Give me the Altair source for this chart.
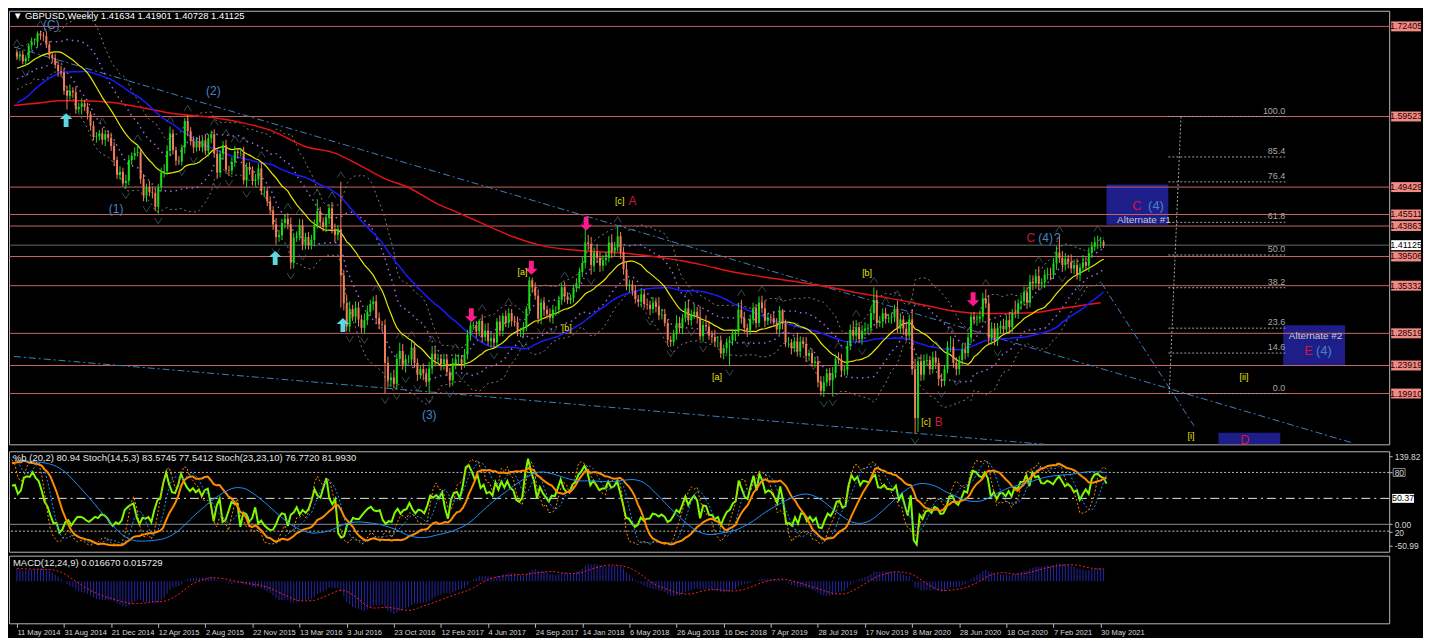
import altair as alt
import numpy as np
import pandas as pd

# ---------------------------------------------------------------- data
# weekly closes (x1000) for the year before the visible window (indicator warm-up only)
PRE_CLOSE = [1526, 1516, 1520, 1537, 1568, 1549, 1521, 1488, 1502, 1524, 1537, 1535, 1553,
             1564, 1557, 1550, 1565, 1587, 1601, 1611, 1620, 1600, 1617, 1618, 1594, 1601,
             1613, 1623, 1637, 1640, 1633, 1637, 1641, 1656, 1643, 1644, 1660, 1643, 1637,
             1668, 1666, 1675, 1667, 1662, 1650, 1663, 1660, 1674, 1679, 1682, 1688, 1687]

# visible weekly closes (x1000), week 0 = 11 May 2014
CLOSE = [1681, 1684, 1674, 1679, 1697, 1702, 1702, 1714, 1711, 1710,
         1698, 1683, 1679, 1669, 1660, 1658, 1632, 1625, 1632, 1630,
         1606, 1609, 1614, 1609, 1599, 1582, 1566, 1567, 1571, 1562,
         1570, 1565, 1553, 1533, 1512, 1516, 1500, 1503, 1533, 1539,
         1543, 1544, 1506, 1482, 1494, 1487, 1486, 1466, 1494, 1515,
         1517, 1546, 1571, 1547, 1532, 1531, 1551, 1589, 1574, 1560,
         1551, 1560, 1551, 1561, 1546, 1564, 1570, 1542, 1515, 1542,
         1554, 1519, 1518, 1530, 1545, 1543, 1543, 1504, 1523, 1519,
         1503, 1505, 1521, 1489, 1489, 1474, 1461, 1441, 1423, 1425,
         1443, 1449, 1441, 1386, 1422, 1425, 1440, 1412, 1423, 1411,
         1419, 1440, 1460, 1444, 1437, 1450, 1464, 1434, 1426, 1434,
         1368, 1328, 1295, 1320, 1309, 1322, 1305, 1293, 1304, 1316,
         1327, 1331, 1307, 1298, 1297, 1243, 1218, 1222, 1213, 1249,
         1260, 1240, 1248, 1248, 1265, 1243, 1226, 1234, 1228, 1216,
         1235, 1256, 1248, 1249, 1241, 1248, 1230, 1218, 1241, 1248,
         1248, 1242, 1255, 1283, 1296, 1297, 1288, 1303, 1280, 1289,
         1274, 1278, 1272, 1302, 1289, 1310, 1300, 1314, 1303, 1301,
         1288, 1288, 1294, 1320, 1361, 1351, 1339, 1306, 1329, 1319,
         1313, 1307, 1319, 1319, 1333, 1351, 1338, 1333, 1336, 1350,
         1357, 1373, 1386, 1415, 1413, 1383, 1401, 1393, 1382, 1390,
         1393, 1415, 1402, 1408, 1424, 1401, 1377, 1353, 1355, 1346,
         1334, 1330, 1341, 1327, 1326, 1320, 1329, 1323, 1311, 1312,
         1300, 1276, 1273, 1284, 1300, 1293, 1307, 1321, 1304, 1312,
         1316, 1308, 1281, 1297, 1295, 1282, 1280, 1273, 1273, 1257,
         1264, 1272, 1275, 1284, 1287, 1319, 1307, 1293, 1289, 1305,
         1321, 1300, 1329, 1321, 1303, 1308, 1307, 1300, 1291, 1318,
         1299, 1272, 1272, 1264, 1274, 1259, 1273, 1270, 1253, 1257,
         1243, 1245, 1216, 1203, 1215, 1228, 1218, 1228, 1248, 1247,
         1232, 1233, 1267, 1290, 1282, 1294, 1277, 1289, 1292, 1293,
         1314, 1333, 1300, 1302, 1314, 1306, 1307, 1308, 1320, 1292,
         1305, 1292, 1282, 1305, 1234, 1164, 1245, 1226, 1246, 1247,
         1234, 1251, 1243, 1220, 1217, 1234, 1266, 1266, 1243, 1234,
         1247, 1262, 1257, 1279, 1309, 1305, 1306, 1309, 1335, 1328,
         1278, 1292, 1275, 1293, 1296, 1291, 1304, 1294, 1315, 1314,
         1328, 1331, 1344, 1329, 1359, 1357, 1367, 1356, 1358, 1369,
         1370, 1369, 1385, 1401, 1393, 1383, 1392, 1387, 1378, 1383,
         1369, 1379, 1387, 1382, 1400, 1409, 1415, 1415, 1416, 1411]

# upper wick above the body (x1000)
UP = [4, 5, 6, 4, 3, 6, 5, 3, 4, 5,
      7, 5, 4, 6, 5, 8, 6, 7, 9, 5,
      8, 6, 7, 5, 6, 4, 7, 6, 5, 8,
      6, 5, 7, 6, 5, 8, 6, 9, 7, 5,
      8, 11, 6, 7, 5, 9, 8, 6, 5, 7,
      10, 8, 10, 6, 5, 7, 4, 4, 8, 6,
      7, 6, 8, 5, 9, 6, 5, 7, 6, 5,
      6, 8, 6, 7, 8, 5, 6, 9, 6, 7,
      5, 8, 7, 10, 6, 5, 7, 6, 9, 8,
      6, 7, 8, 10, 7, 6, 9, 8, 6, 7,
      7, 8, 17, 6, 7, 6, 6, 9, 8, 5,
      68, 8, 12, 11, 6, 9, 8, 7, 10, 9,
      6, 7, 9, 8, 5, 8, 9, 7, 11, 7,
      12, 10, 7, 6, 9, 8, 6, 5, 8, 7,
      9, 11, 10, 7, 6, 8, 7, 6, 9, 8,
      7, 6, 8, 7, 6, 5, 6, 2, 9, 10,
      11, 7, 6, 5, 9, 4, 8, 7, 6, 7,
      8, 5, 7, 4, 5, 4, 7, 9, 6, 8,
      6, 8, 7, 5, 6, 7, 8, 6, 5, 5,
      7, 6, 9, 20, 11, 10, 7, 12, 8, 7,
      9, 9, 12, 8, 14, 6, 8, 10, 7, 6,
      8, 6, 9, 7, 8, 6, 8, 7, 14, 8,
      8, 5, 6, 6, 11, 9, 6, 10, 12, 7,
      11, 7, 16, 6, 14, 8, 7, 10, 8, 9,
      5, 6, 6, 6, 4, 10, 14, 9, 6, 7,
      8, 6, 9, 10, 11, 6, 5, 10, 7, 6,
      2, 6, 8, 5, 6, 12, 8, 7, 10, 5,
      6, 7, 6, 8, 9, 7, 8, 9, 7, 10,
      9, 6, 7, 8, 13, 10, 7, 8, 9, 6,
      9, 18, 14, 8, 7, 8, 6, 6, 6, 12,
      9, 6, 10, 7, 15, 15, 7, 10, 9, 9,
      6, 8, 9, 7, 8, 6, 8, 15, 12, 8,
      6, 8, 10, 7, 6, 7, 6, 9, 8, 13,
      12, 9, 8, 7, 7, 10, 7, 12, 5, 17,
      6, 9, 8, 7, 10, 9, 10, 14, 6, 7,
      9, 9, 8, 9, 23, 10, 8, 5, 11, 8,
      9, 6, 10, 7, 8, 7, 8, 10, 7, 3]

# lower wick below the body (x1000)
DN = [5, 6, 4, 7, 5, 6, 5, 8, 6, 7,
      5, 6, 7, 5, 8, 6, 6, 20, 6, 8,
      7, 5, 11, 6, 8, 7, 5, 8, 6, 7,
      9, 6, 7, 8, 6, 7, 5, 8, 6, 7,
      6, 5, 7, 8, 9, 6, 8, 6, 10, 6,
      7, 5, 8, 6, 7, 5, 6, 9, 7, 6,
      8, 6, 5, 7, 6, 8, 7, 6, 9, 7,
      9, 5, 8, 6, 7, 8, 5, 6, 10, 7,
      6, 7, 8, 6, 9, 7, 6, 8, 11, 7,
      6, 8, 7, 9, 8, 6, 7, 8, 7, 6,
      6, 7, 5, 8, 6, 7, 9, 6, 11, 8,
      46, 10, 7, 8, 6, 9, 10, 7, 8, 7,
      6, 9, 8, 7, 9, 44, 10, 9, 6, 8,
      9, 7, 11, 6, 8, 7, 9, 6, 10, 7,
      17, 8, 10, 7, 9, 8, 6, 10, 8, 7,
      8, 9, 6, 7, 8, 6, 9, 7, 8, 6,
      6, 9, 9, 7, 8, 8, 6, 7, 8, 6,
      7, 8, 9, 6, 7, 8, 6, 7, 8, 9,
      7, 6, 8, 9, 6, 7, 8, 6, 6, 7,
      6, 8, 7, 8, 9, 14, 10, 7, 9, 8,
      8, 6, 9, 7, 6, 9, 8, 6, 9, 7,
      6, 7, 8, 6, 7, 9, 6, 8, 7, 6,
      5, 8, 7, 6, 8, 7, 9, 6, 7, 8,
      6, 9, 6, 8, 7, 6, 9, 6, 8, 7,
      9, 8, 33, 7, 10, 6, 8, 7, 9, 6,
      7, 8, 6, 7, 9, 6, 8, 5, 7, 8,
      8, 6, 7, 9, 6, 7, 8, 6, 9, 7,
      6, 7, 8, 7, 9, 6, 8, 22, 7, 6,
      9, 7, 8, 6, 7, 9, 6, 8, 7, 6,
      7, 10, 8, 6, 9, 7, 6, 8, 7, 6,
      7, 9, 8, 6, 8, 23, 20, 9, 8, 7,
      8, 6, 9, 10, 9, 7, 6, 8, 7, 9,
      8, 7, 9, 6, 8, 7, 9, 6, 8, 7,
      10, 9, 7, 8, 9, 7, 6, 9, 8, 7,
      8, 9, 6, 9, 7, 10, 8, 9, 7, 8,
      7, 8, 6, 9, 7, 10, 8, 9, 7, 8,
      7, 9, 6, 8, 9, 7, 6, 9, 8, 4]

DATE_LABELS = ['11 May 2014', '31 Aug 2014', '21 Dec 2014', '12 Apr 2015', '2 Aug 2015',
               '22 Nov 2015', '13 Mar 2016', '3 Jul 2016', '23 Oct 2016', '12 Feb 2017',
               '4 Jun 2017', '24 Sep 2017', '14 Jan 2018', '6 May 2018', '26 Aug 2018',
               '16 Dec 2018', '7 Apr 2019', '28 Jul 2019', '17 Nov 2019', '8 Mar 2020',
               '28 Jun 2020', '18 Oct 2020', '7 Feb 2021', '30 May 2021']
DATE_WEEKS = [0, 16, 32, 48, 64, 80, 96, 112, 128, 144, 160, 176, 192, 208, 224, 240,
              256, 272, 288, 304, 320, 336, 352, 368]

PRICE_TICKS = [1.71840, 1.68340, 1.64840, 1.61440, 1.57940, 1.54440, 1.51040, 1.47540,
               1.44040, 1.40340, 1.37140, 1.33740, 1.30240, 1.26740, 1.23340, 1.19840,
               1.16340, 1.12940]

LEVELS = [1.72405, 1.59523, 1.49429, 1.45511, 1.43863, 1.39506, 1.35332, 1.28519, 1.23919, 1.19910]
LAST_PRICE = 1.41125

# slow (red) moving average
RED_W = [-1, 9, 14, 22.3, 32.3, 42.3, 52.3, 65.7, 75.7, 85.7, 99, 107.3, 115.7, 125.7, 132.3,
         142.3, 150.7, 159, 169, 179, 189, 199, 209, 219, 225.7, 232.3, 242.3, 252.3, 265.7,
         275.7, 285.7, 295.7, 309, 319, 329, 335.7, 345.7, 352.3, 359, 368]
RED_P = [1.6110, 1.6151, 1.6179, 1.6179, 1.6151, 1.6082, 1.5998, 1.5942, 1.5872, 1.5761,
         1.5509, 1.5439, 1.5272, 1.5049, 1.4951, 1.4713, 1.4560, 1.4406, 1.4225, 1.4099,
         1.4043, 1.4015, 1.3987, 1.3932, 1.3890, 1.3834, 1.3736, 1.3666, 1.3583, 1.3513,
         1.3429, 1.3359, 1.3247, 1.3164, 1.3136, 1.3136, 1.3150, 1.3192, 1.3234, 1.3290]

FIB_LEVELS = [100.0, 85.4, 76.4, 61.8, 50.0, 38.2, 23.6, 14.6, 0.0]
FIB_LOW, FIB_HIGH = 1.19910, 1.59523
FIB_W0, FIB_W1 = 391.0, 430.7
FIB_VERT_W = [395.3, 391.3]

TREND_W0 = [-1, -1, 368.3]
TREND_P0 = [1.6947, 1.2521, 1.3569]
TREND_W1 = [454, 349, 399.7]
TREND_P1 = [1.1279, 1.1265, 1.1530]

BOX_W0 = [370, 430, 408]
BOX_W1 = [391, 451, 429]
BOX_P0 = [1.4979, 1.2968, 1.1432]
BOX_P1 = [1.4406, 1.2396, 1.1000]

WAVE_TEXT = ['(C)', '(2)', '(1)', '(3)', '[c]', 'A', '[a]', '[b]', '[a]', '[b]', '[c]', 'B',
             'C', '(4)', '?', '[ii]', '[i]', 'C', '(4)', 'Alternate #1', 'Alternate #2',
             'E', '(4)', 'D']
WAVE_W = [11.7, 66.7, 33.7, 140.0, 204.7, 209.0, 171.7, 186.7, 237.7, 288.7, 308.7, 313.0,
          344.3, 349.3, 353.3, 416.7, 398.7, 380.3, 386.8, 382.7, 441.0, 438.6, 443.8, 417.0]
WAVE_P = [1.7255, 1.6320, 1.4630, 1.1684, 1.4741, 1.4741, 1.3722, 1.2926, 1.2228, 1.3708,
          1.1586, 1.1586, 1.4211, 1.4211, 1.4211, 1.2228, 1.1390, 1.4671, 1.4671, 1.4476,
          1.2815, 1.2605, 1.2605, 1.1321]
WAVE_KIND = ['deg', 'deg', 'deg', 'deg', 'sub', 'big', 'sub', 'sub', 'sub', 'sub', 'sub', 'big',
             'big', 'deg', 'deg', 'sub', 'sub', 'bigbox', 'degbox', 'alt', 'alt',
             'bigbox', 'degbox', 'bigbox']

UP_ARROW_W = [16.7, 87.7, 110.7]
UP_ARROW_P = [1.590, 1.393, 1.297]
DOWN_ARROW_W = [154.3, 174.7, 193.3, 324.7]
DOWN_ARROW_P = [1.311, 1.379, 1.442, 1.334]

TITLE_MAIN = '\u25bc GBPUSD,Weekly  1.41634 1.41901 1.40728 1.41125'
TITLE_STOCH = '%b (20,2) 80.94  Stoch(14,5,3) 83.5745 77.5412  Stoch(23,23,10) 76.7720 81.9930'
TITLE_MACD = 'MACD(12,24,9) 0.016670 0.015729'

# ---------------------------------------------------------------- build table
n_pre = len(PRE_CLOSE)
c_all = np.array(PRE_CLOSE + CLOSE, dtype=float) / 1000.0
o_all = np.r_[c_all[0], c_all[:-1]]
up_all = np.r_[np.zeros(n_pre), np.array(UP, dtype=float) / 1000.0]
dn_all = np.r_[np.zeros(n_pre), np.array(DN, dtype=float) / 1000.0]
h_all = np.maximum(o_all, c_all) + up_all
l_all = np.minimum(o_all, c_all) - dn_all
df = pd.DataFrame({'w': np.arange(len(c_all)) - n_pre, 'o': o_all, 'h': h_all,
                   'l': l_all, 'c': c_all})

c = df['c']
df['sma20'] = c.rolling(20).mean()
df['sma50'] = c.rolling(50).mean()
sd = c.rolling(20).std(ddof=0)
df['bbu'] = df['sma20'] + 2 * sd
df['bbl'] = df['sma20'] - 2 * sd
df['pu'] = df['sma20'] + sd
df['pl'] = df['sma20'] - sd
df['pb'] = (c - df['bbl']) / (df['bbu'] - df['bbl']) * 100


def stoch(k, d, s):
    ll = df['l'].rolling(k).min()
    hh = df['h'].rolling(k).max()
    main = 100 * (c - ll).rolling(s).sum() / (hh - ll).rolling(s).sum()
    return main, main.rolling(d).mean()


df['k14'], df['d14'] = stoch(14, 5, 3)
df['k23'], df['d23'] = stoch(23, 23, 10)
df['macd'] = c.ewm(span=12, adjust=False).mean() - c.ewm(span=24, adjust=False).mean()
df['sig'] = df['macd'].rolling(9).mean()
df['dir'] = np.where(df['c'] >= df['o'], 'up', 'down')
hh_, ll_ = df['h'], df['l']
df['fup'] = (hh_ > hh_.shift(1)) & (hh_ > hh_.shift(2)) & (hh_ > hh_.shift(-1)) & (hh_ > hh_.shift(-2))
df['fdn'] = (ll_ < ll_.shift(1)) & (ll_ < ll_.shift(2)) & (ll_ < ll_.shift(-1)) & (ll_ < ll_.shift(-2))

vis = df[df['w'] >= 0].reset_index(drop=True)

# ---------------------------------------------------------------- styling
W = 1388
H_MAIN, H_STOCH, H_MACD = 436, 101, 68
FONT = 'Liberation Sans Narrow, Liberation Sans, Arial, sans-serif'
LABEL_C = '#d6d6d6'
FRAME_C = '#b8b8b8'
XS = alt.Scale(domain=[-1, 464.3], nice=False, zero=False)
YS = alt.Scale(domain=[1.1265, 1.7464], nice=False, zero=False)
SS = alt.Scale(domain=[-1, 101.6], nice=False, zero=False)
BS = alt.Scale(domain=[-55.1, 147.6], nice=False, zero=False)
MS = alt.Scale(domain=[-0.0538, 0.0325], nice=False, zero=False)


def X(f='w'):
    return alt.X(f + ':Q', scale=XS, axis=None)


def series(col):
    d = vis[['w', col]].dropna().rename(columns={col: 'v'})
    return d


def line(col, scale, color, width=1.0, dash=None):
    kw = dict(color=color, strokeWidth=width, clip=True)
    if dash:
        kw['strokeDash'] = dash
    return alt.Chart(series(col)).mark_line(**kw).encode(
        x=X(), y=alt.Y('v:Q', scale=scale, axis=None))


def rect_path(hw, hh):
    return 'M-1,-{0}H1V{0}H-1Z'.format(round(hh / hw, 4))


# ---------------------------------------------------------------- main pane
boxes = pd.DataFrame({'w0': BOX_W0, 'w1': BOX_W1, 'p0': BOX_P0, 'p1': BOX_P1})
l_boxes = alt.Chart(boxes).mark_rect(color='#1e1e8a', clip=True).encode(
    x=X('w0'), x2='w1', y=alt.Y('p0:Q', scale=YS, axis=None), y2='p1')

lv = pd.DataFrame({'p': LEVELS, 't': ['%.5f' % p for p in LEVELS]})
l_levels = alt.Chart(lv).mark_rule(color='#c96464', strokeWidth=1).encode(
    y=alt.Y('p:Q', scale=YS, axis=None))
lp = pd.DataFrame({'p': [LAST_PRICE], 't': ['%.5f' % LAST_PRICE]})
l_last = alt.Chart(lp).mark_rule(color='#5b6d6d', strokeWidth=1).encode(
    y=alt.Y('p:Q', scale=YS, axis=None))

tr = pd.DataFrame({'w0': TREND_W0, 'p0': TREND_P0, 'w1': TREND_W1, 'p1': TREND_P1})
l_trend = alt.Chart(tr).mark_rule(color='#3f7fc0', strokeWidth=1, strokeDash=[7, 3, 2, 3],
                                  clip=True).encode(
    x=X('w0'), x2='w1', y=alt.Y('p0:Q', scale=YS, axis=None), y2='p1')

fib = pd.DataFrame({'lvl': FIB_LEVELS})
fib['p'] = FIB_LOW + fib['lvl'] / 100.0 * (FIB_HIGH - FIB_LOW)
fib['w0'] = FIB_W0
fib['w1'] = FIB_W1
fib['t'] = ['%.1f' % v for v in FIB_LEVELS]
l_fib = alt.Chart(fib).mark_rule(color='#a4a4a4', strokeWidth=1, strokeDash=[2, 2]).encode(
    x=X('w0'), x2='w1', y=alt.Y('p:Q', scale=YS, axis=None))
fv = pd.DataFrame({'w0': [FIB_VERT_W[0]], 'w1': [FIB_VERT_W[1]], 'p0': [FIB_HIGH], 'p1': [FIB_LOW]})
l_fibv = alt.Chart(fv).mark_rule(color='#a4a4a4', strokeWidth=1, strokeDash=[2, 2]).encode(
    x=X('w0'), x2='w1', y=alt.Y('p0:Q', scale=YS, axis=None), y2='p1')
l_fibt = alt.Chart(fib).mark_text(color='#a8a8a8', font=FONT, fontSize=9, align='right',
                                  baseline='bottom', dy=-1).encode(
    x=X('w1'), y=alt.Y('p:Q', scale=YS, axis=None), text='t:N')

l_bbu = line('bbu', YS, '#7d7d7d', 1, [2, 3])
l_bbl = line('bbl', YS, '#7d7d7d', 1, [2, 3])
l_pu = line('pu', YS, '#9b6ae0', 1.5, [1.5, 4])
l_pl = line('pl', YS, '#9b6ae0', 1.5, [1.5, 4])
red = pd.DataFrame({'w': RED_W, 'v': RED_P})
l_red = alt.Chart(red).mark_line(color='#e21414', strokeWidth=1.5, interpolate='monotone',
                                 clip=True).encode(x=X(), y=alt.Y('v:Q', scale=YS, axis=None))
l_blue = line('sma50', YS, '#1a1aff', 1.5)
l_yel = line('sma20', YS, '#e8e800', 1.2)

CANDLE_COL = alt.Color('dir:N', scale=alt.Scale(domain=['up', 'down'], range=['#19dc19', '#f0805c']),
                       legend=None)
l_wick = alt.Chart(vis).mark_rule(strokeWidth=1).encode(
    x=X(),
    y=alt.Y('l:Q', scale=YS, axis=alt.Axis(orient='right', values=PRICE_TICKS, format='.5f',
                                           title=None, grid=False, domain=False, tickSize=3,
                                           tickColor=FRAME_C, labelColor=LABEL_C, labelFont=FONT,
                                           labelFontSize=9, labelPadding=2, labelOverlap=False)),
    y2='h', color=CANDLE_COL)
l_body = alt.Chart(vis).mark_bar(size=2).encode(
    x=X(), y=alt.Y('o:Q', scale=YS, axis=None), y2='c', color=CANDLE_COL)

FR_C = '#4a6c6c'
l_fup = alt.Chart(vis[vis['fup']]).mark_point(
    shape='M-1,0.8L0,-0.8L1,0.8', filled=False, size=56, strokeWidth=1, color=FR_C, yOffset=-7
).encode(x=X(), y=alt.Y('h:Q', scale=YS, axis=None))
l_fdn = alt.Chart(vis[vis['fdn']]).mark_point(
    shape='M-1,-0.8L0,0.8L1,-0.8', filled=False, size=56, strokeWidth=1, color=FR_C, yOffset=7
).encode(x=X(), y=alt.Y('l:Q', scale=YS, axis=None))

ua = pd.DataFrame({'w': UP_ARROW_W, 'p': UP_ARROW_P})
da = pd.DataFrame({'w': DOWN_ARROW_W, 'p': DOWN_ARROW_P})
l_ua = alt.Chart(ua).mark_point(
    shape='M0,-1L0.9,-0.15L0.35,-0.15L0.35,1L-0.35,1L-0.35,-0.15L-0.9,-0.15Z',
    filled=True, size=196, color='#5fd6e0', opacity=1).encode(
    x=X(), y=alt.Y('p:Q', scale=YS, axis=None))
l_da = alt.Chart(da).mark_point(
    shape='M0,1L0.9,0.15L0.35,0.15L0.35,-1L-0.35,-1L-0.35,0.15L-0.9,0.15Z',
    filled=True, size=196, color='#ff1a8c', opacity=1).encode(
    x=X(), y=alt.Y('p:Q', scale=YS, axis=None))

KIND_COLOR = {'deg': '#4a82c4', 'sub': '#e6e600', 'big': '#d6143c', 'bigbox': '#d6143c',
              'degbox': '#4a82c4', 'alt': '#c8c8d0'}
KIND_SIZE = {'deg': 12, 'sub': 9, 'big': 12, 'bigbox': 13, 'degbox': 13, 'alt': 10}
wv = pd.DataFrame({'w': WAVE_W, 'p': WAVE_P, 't': WAVE_TEXT, 'k': WAVE_KIND})
wv['col'] = wv['k'].map(KIND_COLOR)
wv['fs'] = wv['k'].map(KIND_SIZE)
l_wave = alt.Chart(wv).mark_text(font=FONT, align='center', baseline='middle').encode(
    x=X(), y=alt.Y('p:Q', scale=YS, axis=None), text='t:N',
    color=alt.Color('col:N', scale=None), size=alt.Size('fs:Q', scale=None))

BOXPATH = rect_path(15, 5)
l_lvbox = alt.Chart(lv).mark_point(shape=BOXPATH, filled=True, size=900, color='#f08a84',
                                   opacity=1).encode(
    x=alt.value(W + 17), y=alt.Y('p:Q', scale=YS, axis=None))
l_lvtxt = alt.Chart(lv).mark_text(font=FONT, fontSize=9, color='#2a0000', align='center',
                                  baseline='middle').encode(
    x=alt.value(W + 17), y=alt.Y('p:Q', scale=YS, axis=None), text='t:N')
l_lpbox = alt.Chart(lp).mark_point(shape=BOXPATH, filled=True, size=900, color='#ffffff',
                                   opacity=1).encode(
    x=alt.value(W + 17), y=alt.Y('p:Q', scale=YS, axis=None))
l_lptxt = alt.Chart(lp).mark_text(font=FONT, fontSize=9, color='#000000', align='center',
                                  baseline='middle').encode(
    x=alt.value(W + 17), y=alt.Y('p:Q', scale=YS, axis=None), text='t:N')

l_title = alt.Chart(pd.DataFrame({'t': [TITLE_MAIN]})).mark_text(
    font=FONT, fontSize=9.5, color='#ffffff', align='left', baseline='middle').encode(
    x=alt.value(4), y=alt.value(5), text='t:N')

main = alt.layer(
    l_boxes, l_levels, l_last, l_trend, l_fib, l_fibv, l_fibt,
    l_bbu, l_bbl, l_pu, l_pl, l_red, l_blue, l_yel,
    l_wick, l_body, l_fup, l_fdn, l_ua, l_da, l_wave,
    l_lvbox, l_lvtxt, l_lpbox, l_lptxt, l_title
).properties(width=W, height=H_MAIN)

# ---------------------------------------------------------------- stochastic pane
SY_VALUES = [96.6, 80, 27, 19, 5.1]
stoch_axis = alt.Axis(orient='right', values=SY_VALUES, title=None, grid=False, domain=False,
                      tickSize=3, tickColor=FRAME_C, labelColor=LABEL_C, labelFont=FONT,
                      labelFontSize=8.5, labelPadding=2, labelOverlap=False,
                      labelExpr="datum.value > 90 ? '139.82' : datum.value > 70 ? '80' : "
                                "datum.value > 25 ? '0.00' : datum.value > 10 ? '20' : '-50.99'")
sl = pd.DataFrame({'v': [80, 20], 'k': ['a', 'b']})
s_dot = alt.Chart(sl).mark_rule(color='#c4c4c4', strokeDash=[2, 2], strokeWidth=1).encode(
    y=alt.Y('v:Q', scale=SS, axis=stoch_axis))
s_mid = alt.Chart(pd.DataFrame({'v': [53.5]})).mark_rule(
    color='#e6e6e6', strokeDash=[9, 4, 2, 4], strokeWidth=1).encode(
    y=alt.Y('v:Q', scale=SS, axis=None))
s_zero = alt.Chart(pd.DataFrame({'v': [27.0]})).mark_rule(color='#8e8e8e', strokeWidth=1).encode(
    y=alt.Y('v:Q', scale=SS, axis=None))
s_pb = line('pb', BS, '#7cfc00', 2)
s_k14 = line('k14', SS, '#ff8c00', 1, [2, 2])
s_d14 = line('d14', SS, '#1e90ff', 1, [2, 2])
s_k23 = line('k23', SS, '#ff8c00', 2)
s_d23 = line('d23', SS, '#1e90ff', 1)
s_box80 = alt.Chart(pd.DataFrame({'v': [80]})).mark_point(
    shape=rect_path(6, 4), filled=False, size=144, color='#c8c8c8', strokeWidth=1).encode(
    x=alt.value(W + 10), y=alt.Y('v:Q', scale=SS, axis=None))
s_box50 = alt.Chart(pd.DataFrame({'v': [53.5]})).mark_point(
    shape=rect_path(11, 4.5), filled=True, size=484, color='#ffffff', opacity=1).encode(
    x=alt.value(W + 14), y=alt.Y('v:Q', scale=SS, axis=None))
s_txt50 = alt.Chart(pd.DataFrame({'v': [53.5], 't': ['50.37']})).mark_text(
    font=FONT, fontSize=9, color='#000000', align='center', baseline='middle').encode(
    x=alt.value(W + 14), y=alt.Y('v:Q', scale=SS, axis=None), text='t:N')
s_title = alt.Chart(pd.DataFrame({'t': [TITLE_STOCH]})).mark_text(
    font=FONT, fontSize=9.5, color='#e8e8e8', align='left', baseline='middle').encode(
    x=alt.value(4), y=alt.value(7), text='t:N')

stoch_pane = alt.layer(
    s_dot, s_mid, s_zero, s_pb, s_k14, s_d14, s_k23, s_d23, s_box80, s_box50, s_txt50, s_title
).resolve_scale(y='independent').properties(width=W, height=H_STOCH)

# ---------------------------------------------------------------- MACD pane
date_expr = "''"
for wk, lab in reversed(list(zip(DATE_WEEKS, DATE_LABELS))):
    date_expr = "(abs(datum.value - {0}) < 0.5 ? '{1}' : {2})".format(wk, lab, date_expr)
x_axis = alt.Axis(values=DATE_WEEKS, labelExpr=date_expr,
                  orient='bottom', title=None, grid=False, domain=False, tickSize=4,
                  tickColor=FRAME_C, labelColor=LABEL_C, labelFont=FONT, labelFontSize=7.6,
                  labelAlign='left', labelPadding=1, labelOverlap=False, labelFlush=False)
macd_axis = alt.Axis(orient='right', values=[0.026251, 0.0, -0.044743], title=None, grid=False,
                     domain=False, tickSize=3, tickColor=FRAME_C, labelColor=LABEL_C,
                     labelFont=FONT, labelFontSize=9, labelPadding=2, labelOverlap=False,
                     labelExpr="datum.value > 0.01 ? '0.026251' : datum.value < -0.01 ? "
                               "'-0.044743' : '0.00'")
m_bar = alt.Chart(series('macd')).mark_bar(size=1, color='#2626a6').encode(
    x=alt.X('w:Q', scale=XS, axis=x_axis),
    y=alt.Y('v:Q', scale=MS, axis=macd_axis), y2=alt.datum(0))
m_sig = alt.Chart(series('sig')).mark_line(color='#ff2020', strokeWidth=1, strokeDash=[2, 2],
                                           clip=True).encode(
    x=alt.X('w:Q', scale=XS), y=alt.Y('v:Q', scale=MS, axis=None))
m_title = alt.Chart(pd.DataFrame({'t': [TITLE_MACD]})).mark_text(
    font=FONT, fontSize=9.5, color='#e8e8e8', align='left', baseline='middle').encode(
    x=alt.value(4), y=alt.value(7), text='t:N')
macd_pane = alt.layer(m_bar, m_sig, m_title).properties(width=W, height=H_MACD)

chart = alt.vconcat(main, stoch_pane, macd_pane, spacing=2).properties(
    padding={'left': 0, 'right': 0, 'top': 0, 'bottom': 0},
    background='#000000'
).configure_view(stroke=FRAME_C, strokeWidth=1)

chart.save('out.html', embed_options={'renderer': 'svg', 'actions': False})
